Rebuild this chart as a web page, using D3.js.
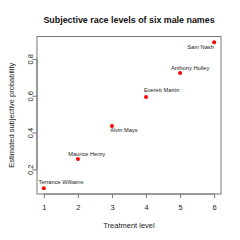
<!DOCTYPE html>
<html><head><meta charset="utf-8">
<script src="https://cdn.jsdelivr.net/npm/d3@7"></script>
<style>body{margin:0;background:#fff}svg{display:block}text{font-family:"Liberation Sans",Arial,sans-serif}</style>
</head><body>
<script>
const names = ["Terrance Williams","Maurice Henry","Alvin Mays","Everett Martin","Anthony Holley","Sam Nash"];
const treatment = [1,2,3,4,5,6];
const probability = [0.098,0.256,0.435,0.593,0.723,0.89];
const xTicks = [1,2,3,4,5,6];
const yTicks = [0.2,0.4,0.6,0.8];
// label placement offsets (style only)
const labelDx = [17.2,8.8,12,15.6,10,-13.6];
const labelDy = [-5.7,-4.7,4.3,-6.7,-5.3,5];

const W=240,H=240;
const L=37,R=221,T=36.5,B=194;
const FONT="Liberation Sans, Arial, sans-serif";
const svg=d3.select("body").append("svg").attr("width",W).attr("height",H);
const pad=(a,b)=>{const r=b-a;return [a-0.04*r,b+0.04*r];};
const x=d3.scaleLinear().domain(pad(d3.min(treatment),d3.max(treatment))).range([L,R]);
const y=d3.scaleLinear().domain(pad(d3.min(probability),d3.max(probability))).range([B,T]);

svg.append("rect").attr("x",L).attr("y",T).attr("width",R-L).attr("height",B-T)
  .attr("fill","none").attr("stroke","#777").attr("stroke-width",1);

const xa=svg.append("g").attr("transform",`translate(0,${B})`)
  .call(d3.axisBottom(x).tickValues(xTicks).tickSize(4).tickSizeOuter(0).tickFormat(d3.format("d")));
xa.select(".domain").attr("stroke","#777").attr("d",`M${x(1)},0H${x(6)}`);
xa.selectAll(".tick line").attr("stroke","#777");
xa.selectAll("text").attr("font-size",7.5).attr("fill","#222").attr("font-family",FONT)
  .attr("y",13).attr("dy",null).attr("dominant-baseline","central");

const ya=svg.append("g").attr("transform",`translate(${L},0)`)
  .call(d3.axisLeft(y).tickValues(yTicks).tickSize(4).tickSizeOuter(0).tickFormat(d3.format(".1f")));
ya.select(".domain").attr("stroke","#777").attr("d",`M0,${y(0.2)}V${y(0.8)}`);
ya.selectAll(".tick line").attr("stroke","#777");
ya.selectAll("text").attr("font-size",7.5).attr("fill","#222").attr("font-family",FONT)
  .attr("x",null).attr("dy",null).attr("text-anchor","middle")
  .attr("transform","translate(-6.5,0) rotate(-90)").attr("dominant-baseline","central");

const data=names.map((n,i)=>({n,x:treatment[i],y:probability[i],dx:labelDx[i],dy:labelDy[i]}));
svg.selectAll("circle.p").data(data).join("circle").attr("class","p")
  .attr("cx",d=>x(d.x)).attr("cy",d=>y(d.y)).attr("r",2).attr("fill","#f00");
svg.selectAll("text.lab").data(data).join("text").attr("class","lab")
  .attr("x",d=>x(d.x)+d.dx).attr("y",d=>y(d.y)+d.dy).attr("text-anchor","middle")
  .attr("dominant-baseline","central").attr("font-size",5.7).attr("fill","#222").text(d=>d.n);

svg.append("text").attr("x",(L+R)/2).attr("y",20).attr("text-anchor","middle")
  .attr("dominant-baseline","central").attr("font-weight","bold").attr("font-size",8.9).attr("fill","#111")
  .text("Subjective race levels of six male names");
svg.append("text").attr("x",(L+R)/2).attr("y",225).attr("text-anchor","middle")
  .attr("dominant-baseline","central").attr("font-size",7.5).attr("fill","#222").text("Treatment level");
svg.append("text").attr("transform",`translate(11,${(T+B)/2}) rotate(-90)`).attr("text-anchor","middle")
  .attr("dominant-baseline","central").attr("font-size",7.5).attr("fill","#222").text("Estimated subjective probability");
</script>
</body></html>
